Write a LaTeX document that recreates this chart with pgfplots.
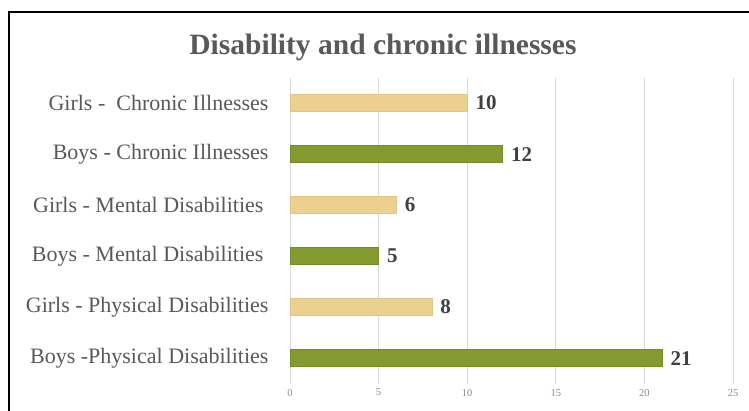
\documentclass[border=0pt]{standalone}
\usepackage{pgfplots}
\pgfplotsset{compat=1.18}
\usepackage{fontspec}
\setmainfont{Liberation Serif}
\definecolor{boys}{HTML}{849A2E}
\definecolor{girls}{HTML}{EBD08F}
\definecolor{txt}{HTML}{404040}
\definecolor{ttl}{HTML}{595959}
\definecolor{grd}{HTML}{D9D9D9}
\definecolor{tck}{HTML}{8C8C8C}
\begin{document}
\begin{tikzpicture}
\useasboundingbox (0,0) rectangle (749bp,411bp);
\fill[white] (0,0) rectangle (749bp,411bp);
\begin{axis}[
  at={(290bp,27.4bp)}, anchor=south west,
  scale only axis, width=443bp, height=306bp,
  xbar, bar width=17bp, bar shift=0pt,
  xmin=0, xmax=25, ymin=-0.5, ymax=5.5,
  xtick={0,5,10,15,20,25},
  ytick={0,1,2,3,4,5},
  yticklabels={Boys -Physical Disabilities, Girls - Physical Disabilities, Boys - Mental Disabilities\kern5bp, Girls - Mental Disabilities\kern5bp, Boys - Chronic Illnesses, Girls -\ \ Chronic Illnesses},
  yticklabel style={font=\fontsize{22bp}{24bp}\selectfont, text=ttl, xshift=-18bp},
  xticklabel style={font=\fontsize{10.5bp}{12bp}\selectfont, text=tck, yshift=-2bp},
  /pgf/number format/assume math mode=true,
  axis line style={draw=none},
  major tick length=0pt,
  xmajorgrids, grid style={grd, line width=0.8bp},
  nodes near coords,
  every node near coord/.append style={font=\bfseries\fontsize{21bp}{23bp}\selectfont, text=txt, anchor=west, xshift=5bp},
  clip=false,
]
\addplot[fill=boys, draw=boys!90!black, line width=0.4bp] coordinates {(21,0) (5,2) (12,4)};
\addplot[fill=girls, draw=girls!95!black, line width=0.4bp] coordinates {(8,1) (6,3) (10,5)};
\end{axis}
\node[font=\bfseries\fontsize{29.5bp}{31bp}\selectfont, text=ttl] at (383bp,364bp) {Disability and chronic illnesses};
\draw[line width=1.6bp, black] (9bp,0) -- (9bp,399bp) -- (749bp,399bp);
\end{tikzpicture}
\end{document}
